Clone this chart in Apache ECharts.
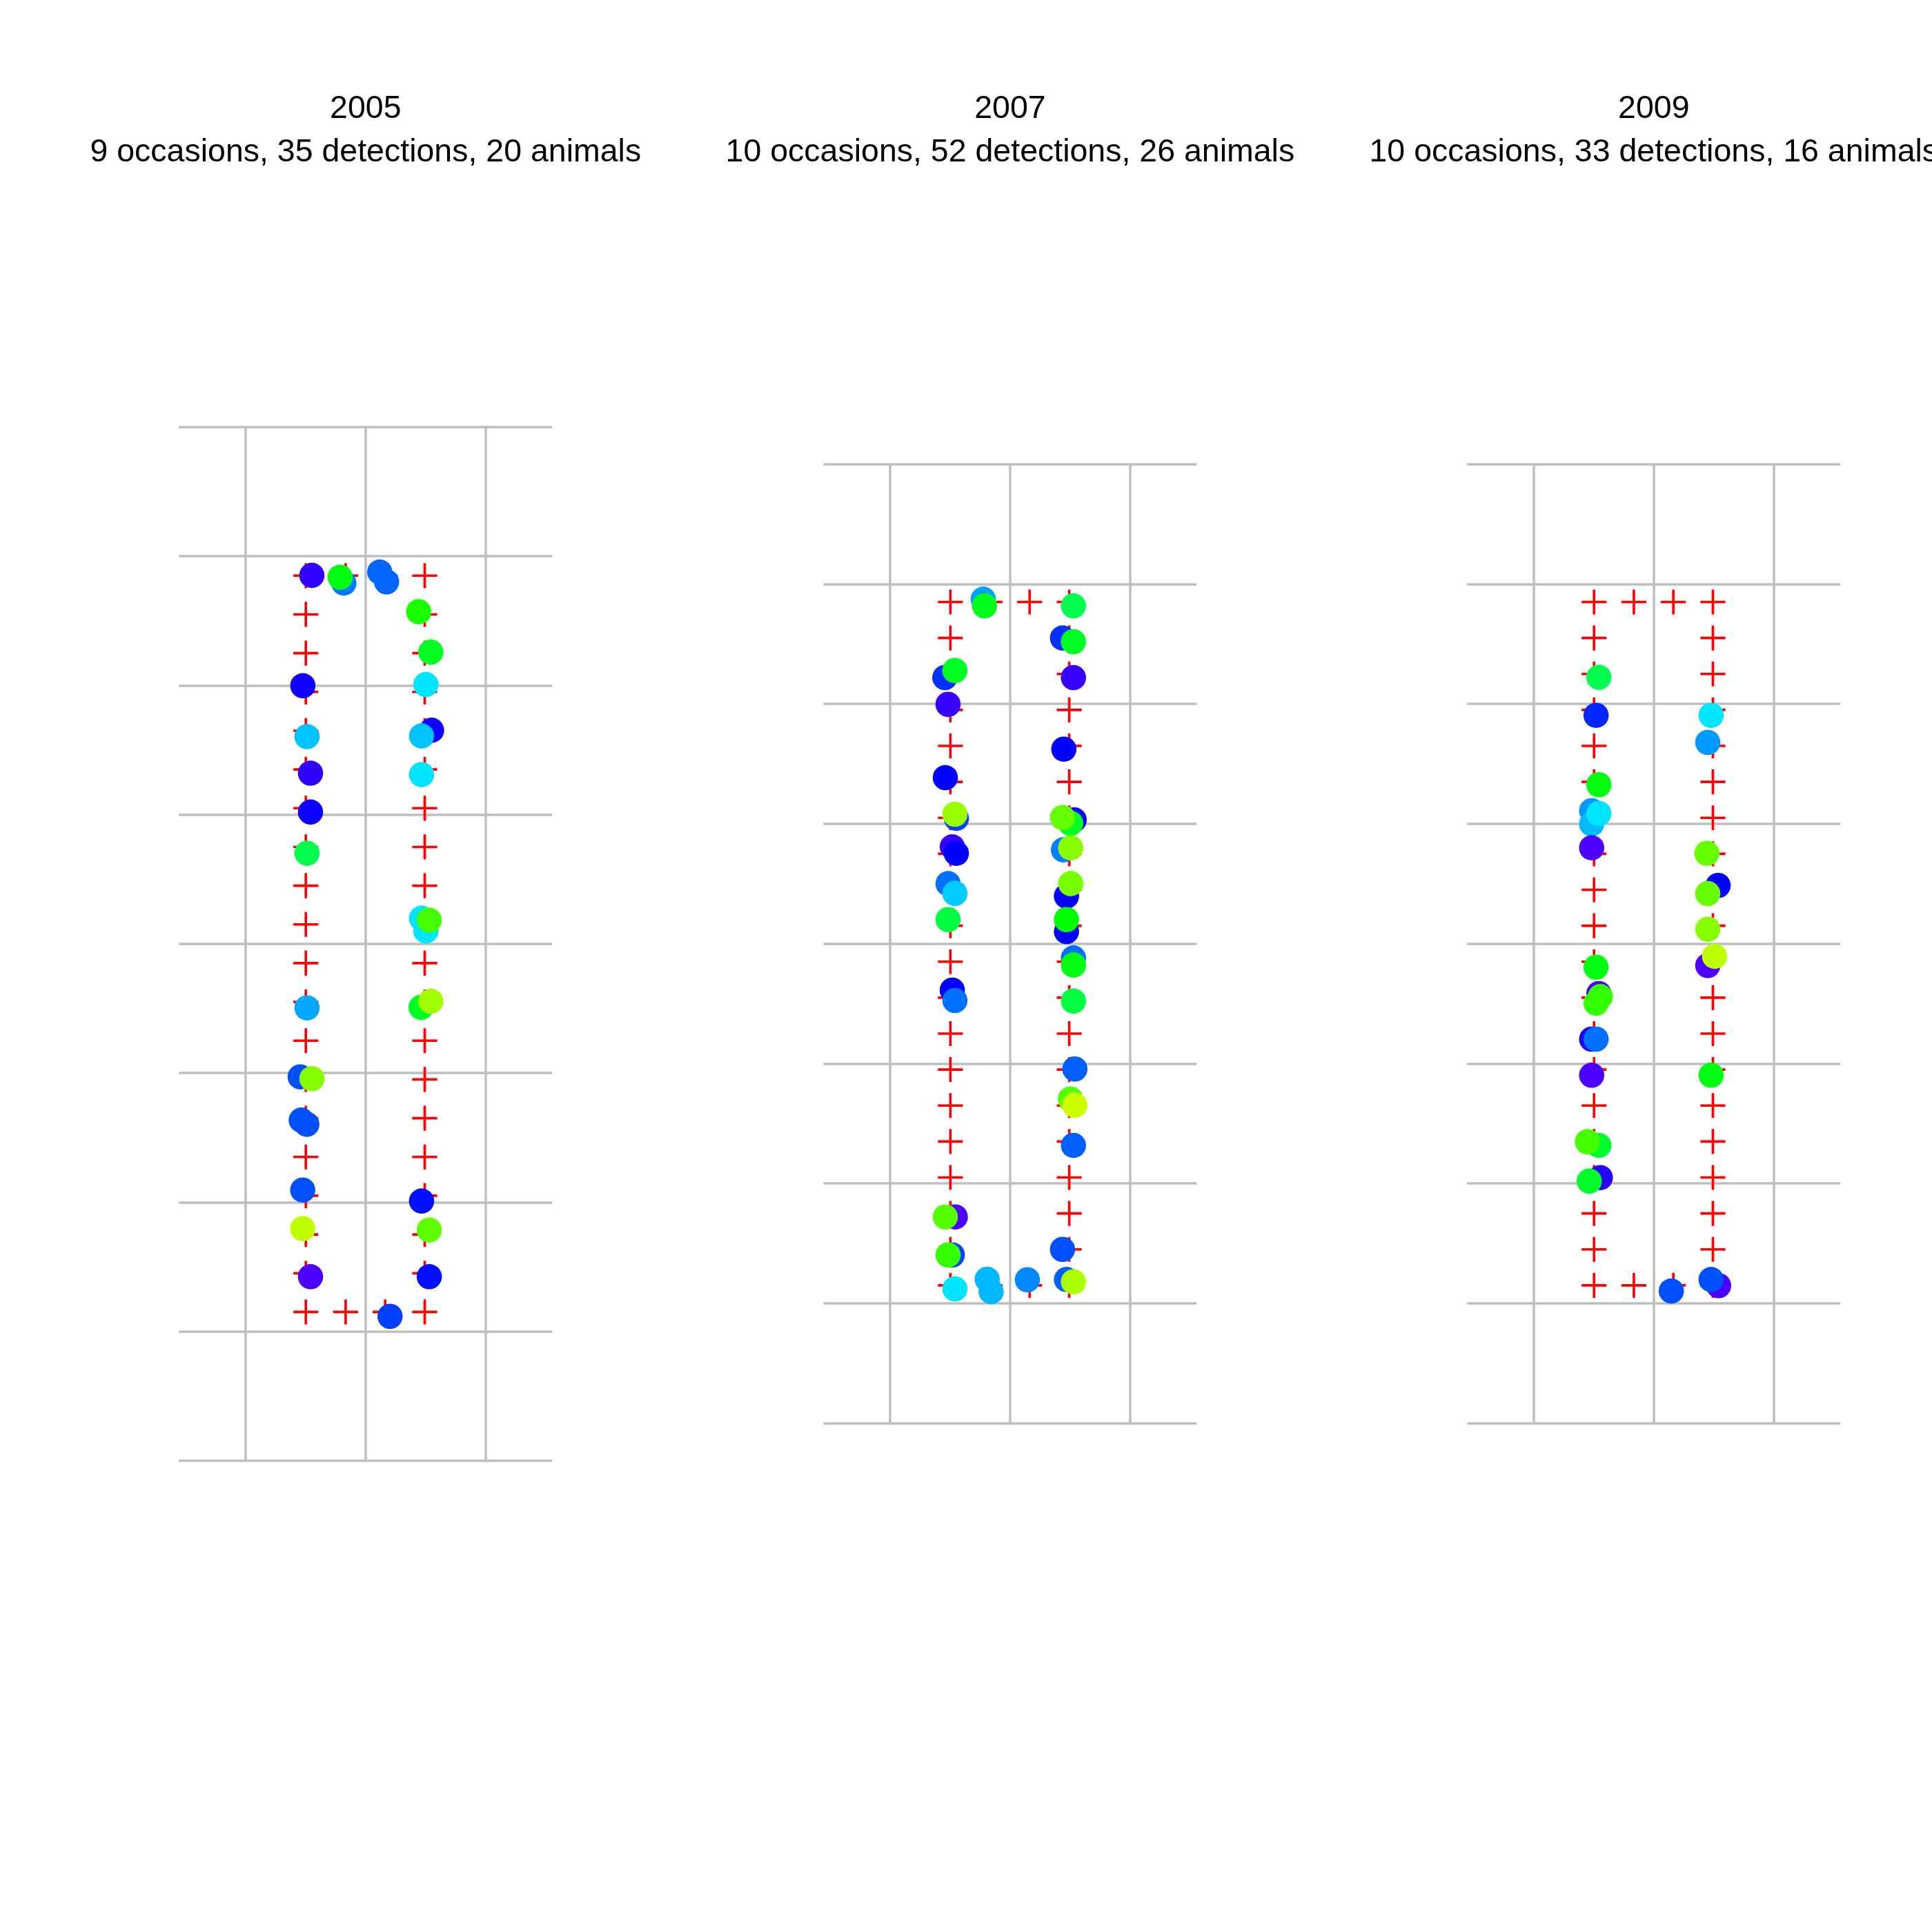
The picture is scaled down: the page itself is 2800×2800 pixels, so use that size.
<!DOCTYPE html>
<html><head><meta charset="utf-8">
<script src="https://cdn.jsdelivr.net/npm/echarts@6/dist/echarts.min.js"></script>
<style>html,body{margin:0;padding:0;background:#fff}#chart{width:2800px;height:2800px}</style>
</head><body><div id="chart"></div>
<script>
// ---- data ----
const years = ['2005', '2007', '2009'];
const subtitles = [
  '9 occasions, 35 detections, 20 animals',
  '10 occasions, 52 detections, 26 animals',
  '10 occasions, 33 detections, 16 animals'
];
const gridX = [-100, 0, 100];
const gridY = [0, 100, 200, 300, 400, 500, 600, 700, 800];

// 44 mist-net (trap) locations, same layout every year
const traps = [
  [-49.8,115],[-49.8,145],[-49.8,175],[-49.8,205],[-49.8,235],
  [-49.8,265],[-49.8,295],[-49.8,325],[-49.8,355],[-49.8,385],
  [-49.8,415],[-49.8,445],[-49.8,475],[-49.8,505],[-49.8,535],
  [-49.8,565],[-49.8,595],[-49.8,625],[-49.8,655],[-49.8,685],
  [49.3,115],[49.3,145],[49.3,175],[49.3,205],[49.3,235],
  [49.3,265],[49.3,295],[49.3,325],[49.3,355],[49.3,385],
  [49.3,415],[49.3,445],[49.3,475],[49.3,505],[49.3,535],
  [49.3,565],[49.3,595],[49.3,625],[49.3,655],[49.3,685],
  [-16.6,685],[16.3,685],[-16.6,115],[16.3,115]
];

const det2005 = [
  [-44.8,685.2],[-18.1,679.3],[-21.2,683.8],[11.8,687.8],[17.5,680.2],
  [44.3,657.1],[54.4,625.8],[-52.3,599.8],[50.3,600.7],[55.0,565.3],
  [46.7,560.9],[-48.8,560.4],[-45.9,532.1],[46.7,531.0],[-45.9,502.0],
  [-48.8,470.1],[46.7,419.8],[50.3,410.0],[53.1,418.3],[-48.8,350.4],
  [46.3,350.8],[54.4,355.5],[-54.5,297.0],[-44.7,295.6],[-53.6,263.5],
  [-49.0,260.3],[-52.4,209.4],[46.7,200.9],[-52.4,179.5],[53.1,178.4],
  [-45.9,142.3],[53.1,142.3],[20.4,111.6]
];
const col2005 = [
  '#3000FF','#0077FF','#00FF10','#0066FF','#0066FF',
  '#1AFF00','#00FF22','#1000FF','#00E5FF','#1000FF',
  '#00C4FF','#00C4FF','#3000FF','#00E5FF','#0C00FF',
  '#00FF4C','#00E5FF','#00E5FF','#44FF00','#00A8FF',
  '#00FF22','#A0FF00','#0050FF','#88FF00','#0050FF',
  '#0050FF','#0050FF','#0010FF','#C0FF00','#60FF00',
  '#4C00FF','#0010FF','#0040FF'
];

const det2007 = [
  [-22.4,687.4],[-21.3,681.8],[52.8,681.8],[43.7,655.0],[52.8,651.9],
  [-54.4,622.0],[-46.0,627.9],[52.8,622.0],[-51.7,599.7],[44.8,562.3],
  [-54.0,538.5],[-44.8,504.6],[-46.0,508.0],[53.4,503.3],[50.5,500.4],
  [43.7,505.3],[-48.2,480.8],[-44.8,475.4],[44.5,478.3],[50.5,480.0],
  [-51.7,450.1],[-46.0,442.0],[47.0,439.7],[50.5,450.1],[-51.7,420.1],
  [47.0,410.2],[47.0,420.1],[52.8,388.1],[52.8,382.2],[-48.2,361.3],
  [-46.0,352.6],[52.8,352.2],[54.0,295.5],[50.3,270.5],[54.0,265.3],
  [52.8,231.8],[-45.7,172.1],[-54.0,172.1],[-48.2,140.4],[-51.7,140.4],
  [43.7,145.0],[-46.0,112.1],[-19.1,120.1],[-15.8,109.8],[14.4,119.7],
  [47.0,119.9],[52.8,118.0]
];
const col2007 = [
  '#00A0FF','#00FF1A','#00FF50','#0030FF','#00FF22',
  '#0030FF','#00FF22','#3800FF','#3800FF','#0000FF',
  '#0000FF','#0040FF','#99FF00','#0000FF','#00FF22',
  '#66FF00','#3A00FF','#0000FF','#0080FF','#88FF00',
  '#0070FF','#00CCFF','#0000FF','#77FF00','#00FF40',
  '#0000FF','#00FF00','#0070FF','#00FF10','#0000FF',
  '#0070FF','#00FF40','#0060FF','#55FF00','#CCFF00',
  '#0060FF','#4C00FF','#55FF00','#0040FF','#33FF00',
  '#0050FF','#00E5FF','#00B8FF','#00B8FF','#0088FF',
  '#0060FF','#AAFF00'
];

const det2009 = [
  [-45.8,622.2],[-48.1,590.5],[47.8,590.5],[45.0,567.9],[-45.8,532.6],
  [-51.8,510.9],[-51.8,500.0],[-45.8,508.6],[-51.8,480.0],[44.3,475.4],
  [53.6,448.6],[45.0,441.8],[45.0,412.1],[45.0,381.8],[50.7,389.5],
  [-48.1,380.4],[-45.8,358.4],[-44.6,355.9],[-48.1,350.3],[-51.8,320.4],
  [-48.1,320.4],[-51.8,290.3],[47.8,290.3],[-45.8,231.8],[-55.3,234.8],
  [-44.6,204.9],[-53.8,202.0],[14.6,110.3],[54.0,114.8],[47.8,119.9]
];
const col2009 = [
  '#00FF50','#0025FF','#00E5FF','#0099FF','#00FF10',
  '#0099FF','#00BBFF','#00E5FF','#4C00FF','#66FF00',
  '#0000FF','#66FF00','#88FF00','#5000FF','#BBFF00',
  '#00FF10','#4C00FF','#33FF00','#33FF00','#2000FF',
  '#0070FF','#4C00FF','#00FF10','#00FF30','#44FF00',
  '#2800FF','#00FF28','#0050FF','#4C00FF','#0050FF'
];

// ---- layout / style ----
const detections = [det2005, det2007, det2009];
const colours = [col2005, col2007, col2009];
const panelLayout = [
  {cx: 529.8, top: 619.0, height: 1497.7},
  {cx: 1463.9, top: 672.7, height: 1390.0},
  {cx: 2396.8, top: 672.7, height: 1390.0}
];
const halfWidthPx = 270.5;
const xExtent = 155.6;
const crossPath = 'path://M-1.8,-18L1.8,-18L1.8,-1.8L18,-1.8L18,1.8L1.8,1.8L1.8,18L-1.8,18L-1.8,1.8L-18,1.8L-18,-1.8L-1.8,-1.8Z';
const FONT = '"Liberation Sans", Arial, Helvetica, sans-serif';

const grids = [], xAxes = [], yAxes = [], series = [], graphics = [];
panelLayout.forEach((p, i) => {
  grids.push({left: p.cx - halfWidthPx, top: p.top, width: 2 * halfWidthPx, height: p.height, containLabel: false});
  xAxes.push({type: 'value', gridIndex: i, min: -xExtent, max: xExtent, show: false});
  yAxes.push({type: 'value', gridIndex: i, min: 0, max: 800, show: false});
  series.push({
    type: 'scatter', xAxisIndex: i, yAxisIndex: i, z: 3, silent: true,
    symbol: crossPath, symbolSize: 36.2, itemStyle: {color: '#FF0000', opacity: 1},
    data: traps,
    markLine: {
      silent: true, z: 1, symbol: ['none', 'none'], animation: false,
      label: {show: false}, emphasis: {disabled: true},
      lineStyle: {color: '#BEBEBE', width: 3.5, type: 'solid', opacity: 1},
      data: gridX.map(v => ({xAxis: v})).concat(gridY.map(v => ({yAxis: v})))
    }
  });
  series.push({
    type: 'scatter', xAxisIndex: i, yAxisIndex: i, z: 4, silent: true,
    symbol: 'circle', symbolSize: 36.6,
    itemStyle: {opacity: 1},
    data: detections[i].map((d, k) => ({value: d, itemStyle: {color: colours[i][k], opacity: 1}}))
  });
  graphics.push({type: 'text', x: p.cx, y: 158.5, z: 10,
    style: {text: years[i], font: '46.5px ' + FONT, fill: '#000', align: 'center', verticalAlign: 'middle', textAlign: 'center', textVerticalAlign: 'middle'}});
  graphics.push({type: 'text', x: p.cx, y: 221.5, z: 10,
    style: {text: subtitles[i], font: '46.5px ' + FONT, fill: '#000', align: 'center', verticalAlign: 'middle', textAlign: 'center', textVerticalAlign: 'middle'}});
});

const chart = echarts.init(document.getElementById('chart'), null, {renderer: 'canvas', width: 2800, height: 2800});
chart.setOption({
  backgroundColor: '#FFFFFF',
  animation: false,
  grid: grids, xAxis: xAxes, yAxis: yAxes,
  series: series,
  graphic: graphics
});
</script></body></html>
